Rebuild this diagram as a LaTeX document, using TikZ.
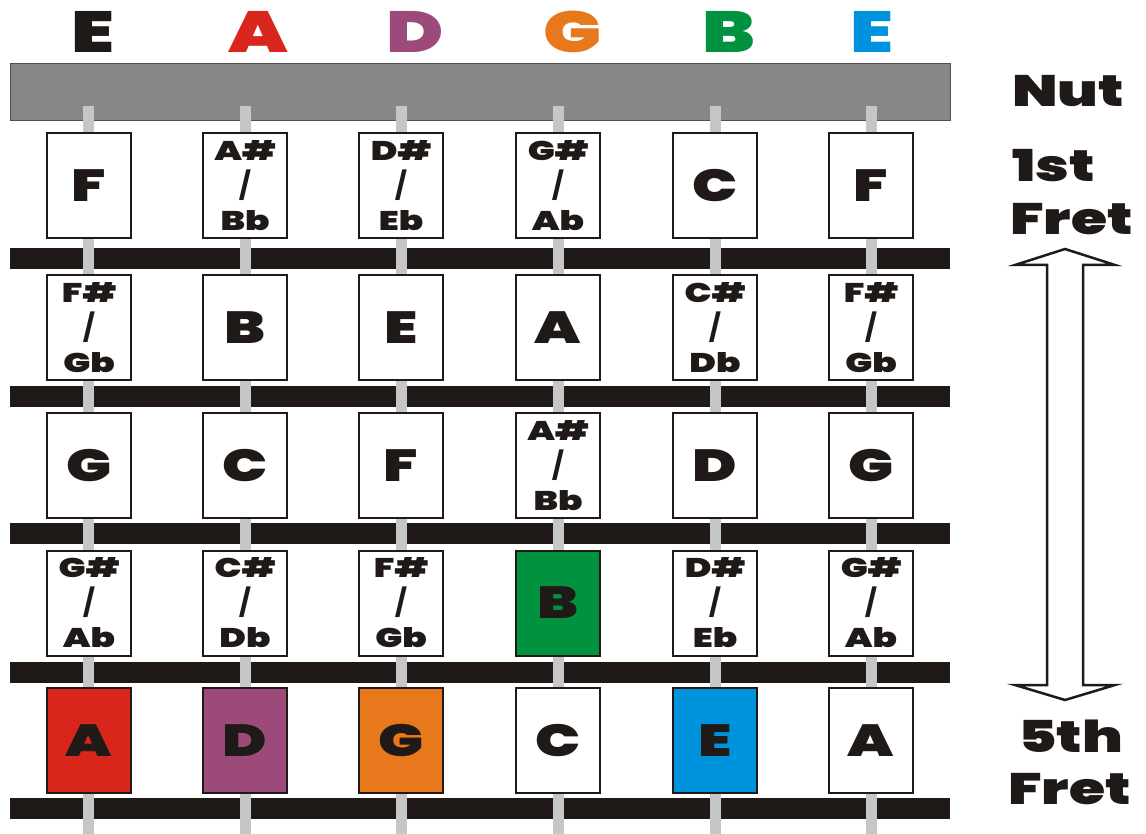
\documentclass[tikz,border=0pt]{standalone}
\usepackage{fontspec}
\newfontfamily\heavy{Poppins Black}[FakeStretch=1.33]
\newfontfamily\slashfont{Poppins}
\definecolor{ink}{HTML}{1F1A17}
\definecolor{nutgray}{HTML}{878787}
\definecolor{nutedge}{HTML}{505050}
\definecolor{strgray}{HTML}{C6C6C6}
\definecolor{cA}{HTML}{D9261C}
\definecolor{cD}{HTML}{9B4A7A}
\definecolor{cG}{HTML}{E8781C}
\definecolor{cB}{HTML}{00923F}
\definecolor{cE}{HTML}{0093DD}
\newcommand\sharpflat[2]{#1\#\\{\slashfont\bfseries /}\\#2}
\tikzset{
  notebox/.style={draw=ink, line width=2pt, fill=white, minimum width=84pt, minimum height=105pt, inner sep=0pt, text=ink, font=\heavy\fontsize{45}{45}\selectfont},
  sharpbox/.style={notebox, align=center, font=\heavy\fontsize{27}{35}\selectfont},
  strlabel/.style={anchor=base, inner sep=0pt, font=\heavy\fontsize{58}{58}\selectfont},
  sidelabel/.style={anchor=base west, inner sep=0pt, text=ink, font=\heavy\fontsize{44}{44}\selectfont},
  fretbar/.style={fill=ink},
  guitarstring/.style={draw=strgray, line width=11pt}
}
\begin{document}
\begin{tikzpicture}[x=1pt,y=-1pt]
\useasboundingbox (0,0) rectangle (1146,834);
% string names
\node[strlabel, text=ink] (sE6) at (93,53) {E};
\node[strlabel, text=cA] (sA) at (258,53) {A};
\node[strlabel, text=cD] (sD) at (415,53) {D};
\node[strlabel, text=cG] (sG) at (572,53) {G};
\node[strlabel, text=cB] (sB) at (729,53) {B};
\node[strlabel, text=cE] (sE1) at (872,53) {E};
% nut
\fill[nutgray, draw=nutedge, line width=1pt] (10,64) rectangle (950,121);
% frets
\foreach \y in {248,386,523,662,798} \fill[fretbar] (10,\y) rectangle (950,\y+21);
% strings
\foreach \x in {88,245,401,558,715,871} \draw[guitarstring] (\x,106) -- (\x,834);
% row 1
\node[notebox] (n11) at (89,186) {F};
\node[sharpbox] (n12) at (245,186) {\sharpflat{A}{Bb}};
\node[sharpbox] (n13) at (401,186) {\sharpflat{D}{Eb}};
\node[sharpbox] (n14) at (558,186) {\sharpflat{G}{Ab}};
\node[notebox] (n15) at (715,186) {C};
\node[notebox] (n16) at (871,186) {F};
% row 2
\node[sharpbox] (n21) at (89,327.5) {\sharpflat{F}{Gb}};
\node[notebox] (n22) at (245,327.5) {B};
\node[notebox] (n23) at (401,327.5) {E};
\node[notebox] (n24) at (558,327.5) {A};
\node[sharpbox] (n25) at (715,327.5) {\sharpflat{C}{Db}};
\node[sharpbox] (n26) at (871,327.5) {\sharpflat{F}{Gb}};
% row 3
\node[notebox] (n31) at (89,465.5) {G};
\node[notebox] (n32) at (245,465.5) {C};
\node[notebox] (n33) at (401,465.5) {F};
\node[sharpbox] (n34) at (558,465.5) {\sharpflat{A}{Bb}};
\node[notebox] (n35) at (715,465.5) {D};
\node[notebox] (n36) at (871,465.5) {G};
% row 4
\node[sharpbox] (n41) at (89,603) {\sharpflat{G}{Ab}};
\node[sharpbox] (n42) at (245,603) {\sharpflat{C}{Db}};
\node[sharpbox] (n43) at (401,603) {\sharpflat{F}{Gb}};
\node[notebox, fill=cB] (n44) at (558,603) {B};
\node[sharpbox] (n45) at (715,603) {\sharpflat{D}{Eb}};
\node[sharpbox] (n46) at (871,603) {\sharpflat{G}{Ab}};
% row 5
\node[notebox, fill=cA] (n51) at (89,740.5) {A};
\node[notebox, fill=cD] (n52) at (245,740.5) {D};
\node[notebox, fill=cG] (n53) at (401,740.5) {G};
\node[notebox] (n54) at (558,740.5) {C};
\node[notebox, fill=cE] (n55) at (715,740.5) {E};
\node[notebox] (n56) at (871,740.5) {A};
% side labels
\node[sidelabel] (nut) at (1012,107) {Nut};
\node[sidelabel] (first) at (1012,182) {1st};
\node[sidelabel] (fret1) at (1010,235) {Fret};
\node[sidelabel] (fifth) at (1018,752) {5th};
\node[sidelabel] (fret5) at (1008,804) {Fret};
% double arrow
\draw[ink, line width=2.5pt, fill=white, line join=miter]
  (1047,265) -- (1015,265) -- (1065,249) -- (1115,265) -- (1083,265)
  -- (1083,685) -- (1115,685) -- (1065,700) -- (1015,685) -- (1047,685) -- cycle;
\end{tikzpicture}
\end{document}
